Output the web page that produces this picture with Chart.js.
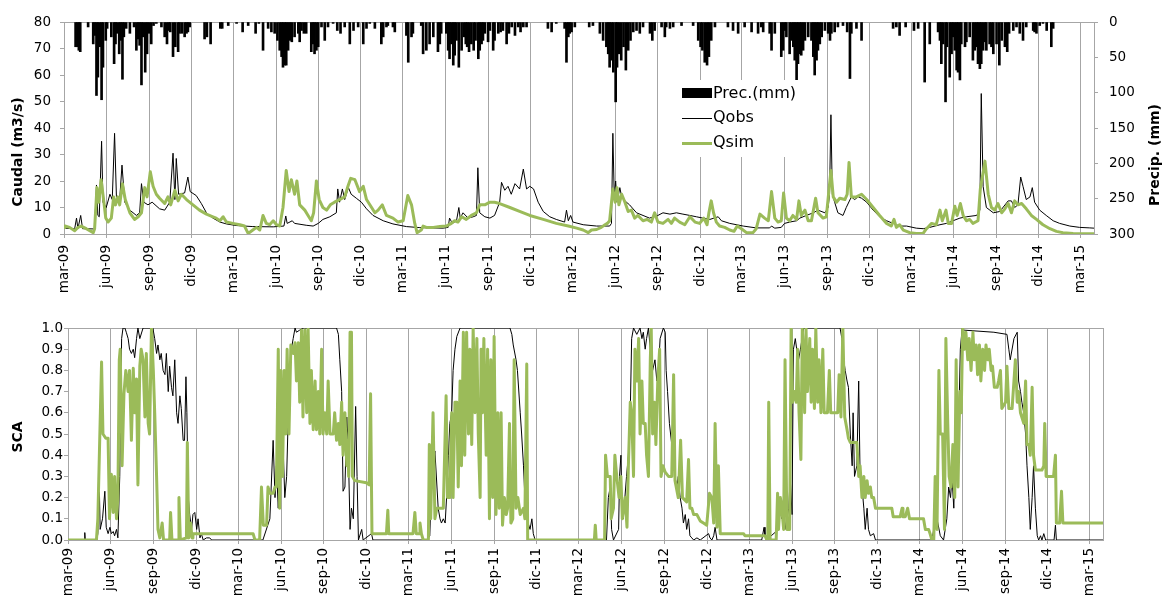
<!DOCTYPE html>
<html>
<head>
<meta charset="utf-8">
<script src="https://cdn.jsdelivr.net/npm/chart.js@4.4.1/dist/chart.umd.min.js"></script>
<style>
  body { margin: 0; background: #fff; width: 1162px; height: 600px; overflow: hidden; }
  .box { position: absolute; left: 0; width: 1162px; height: 300px; }
</style>
</head>
<body>
<div class="box" style="top:0"><canvas id="topChart" width="1162" height="300"></canvas></div>
<div class="box" style="top:300px"><canvas id="scaChart" width="1162" height="300"></canvas></div>
<script>
// x values are days since 1 March 2009
const tickLabels = ['mar-09','jun-09','sep-09','dic-09','mar-10','jun-10','sep-10','dic-10',
  'mar-11','jun-11','sep-11','dic-11','mar-12','jun-12','sep-12','dic-12',
  'mar-13','jun-13','sep-13','dic-13','mar-14','jun-14','sep-14','dic-14','mar-15'];

// observed discharge (m3/s)
const qobs = [[0,2.2],[23,2.0],[27,6],[30,2],[36,7],[40,2],[66,1.9],[70,18.5],[73,7],[76,6.5],[81,35],[84,12],[91,10],[99,15],[104,13],[109,38],[113,14],[120,13],[125,26],[131,12],[142,9],[156,7],[163,8],[167,19],[172,12],[181,11],[190,12],[206,9.5],[217,9],[228,12],[235,30.5],[239,13],[242,28.5],[247,15],[260,15.5],[267,21.5],[272,16],[285,14.5],[296,11.5],[307,8],[321,6],[336,4.5],[350,3.8],[371,3.2],[407,2.8],[451,2.7],[474,3],[478,6.8],[481,4],[492,5],[497,4],[522,3.3],[537,3],[548,4],[558,5.5],[573,6.5],[587,8],[590,17],[594,12],[600,17],[605,13],[613,17.5],[619,15],[630,13.5],[641,12],[652,9.5],[666,7],[688,5],[709,3.8],[738,2.8],[767,2.4],
  [788,2.3],[817,2.2],[828,2.5],[831,6],[837,4],[846,5],[851,10],[854,6],[860,8],[871,6],[882,6.5],[889,7],[892,25],[896,8],[907,6.5],[918,6],[928,7],[939,12],[943,19.5],[950,16.5],[957,18],[964,15],[972,19],[982,17],[990,24.5],[997,17],[1004,18],[1012,17],[1022,12],[1033,8.5],[1047,6.5],[1061,5.5],[1079,4.5],[1083,9],[1087,5],[1092,7],[1097,4.5],[1119,3.5],[1148,3],[1176,3],[1180,4],[1183,38],[1186,14],[1189,20],[1192,12],[1198,17.5],[1202,14],[1209,12.5],[1219,11],[1234,8],[1248,7],[1262,6],[1280,7],[1291,8],[1306,7.5],[1320,8],[1334,7.5],[1349,7],[1363,6.5],[1377,6],[1392,5.5],[1410,6.5],[1417,5],[1435,4],[1464,3],[1492,2.3],
  [1521,2.3],[1525,3],[1532,2.2],[1546,2.5],[1553,4],[1564,4.5],[1579,5],[1586,6],[1600,7],[1615,8],[1625,9],[1640,8],[1647,10],[1650,15],[1653,45],[1656,15],[1661,12],[1668,8],[1679,7],[1686,10],[1697,14],[1704,13],[1712,14],[1719,13.5],[1730,12],[1744,9],[1758,6.5],[1773,5],[1787,4],[1801,3],[1816,3],[1837,2.2],[1852,2],[1866,2.5],[1888,3.5],[1902,4],[1916,5],[1931,6],[1945,6.5],[1967,7],[1974,9],[1977,53],[1981,18],[1988,10],[2003,8],[2017,8.5],[2035,12.5],[2042,12.5],[2049,10],[2056,11],[2062,21.5],[2067,18],[2074,13],[2082,14],[2087,17.5],[2092,12],[2103,9],[2117,7],[2132,5],[2146,4],[2168,3],[2189,2.5],[2211,2.3],[2220,2.2]];

// simulated discharge (m3/s)
const qsim = [[0,2.5],[2,3],[12,2.5],[23,1.2],[30,2.5],[37,3],[48,2],[63,0.5],[66,2],[71,17.5],[75,12],[80,20.5],[86,12],[90,6],[95,4.5],[102,6],[107,14],[111,11],[116,14],[120,11],[126,19],[132,13],[142,8],[152,5.5],[160,6.5],[167,8],[174,17.5],[179,14],[186,23.5],[192,18],[199,15],[206,13.5],[217,11.5],[224,14],[230,11],[239,16.5],[246,12.5],[253,15],[264,13],[278,11],[292,9],[307,7.5],[321,6.5],[328,6],[336,5],[343,6.5],[350,4.5],[364,4],[379,3.5],[389,3],[397,0.2],[407,1.5],[415,2.5],[422,1.5],[429,7],[436,4],[443,3.5],[451,5],[458,3.5],[465,3],[472,10],[479,24],[485,16],[490,20.5],[497,15],[502,20],[508,11],[519,9],[526,7],[533,5],[538,8],[544,20],[550,13],[558,10],[566,9],[574,11],[583,12],[594,13],[605,14],[612,18],[618,21],[627,20.5],[637,16],[645,18],[652,13],[663,10],[670,8],[677,9],[686,11],[695,7],[709,6],[720,4.5],[731,5],[741,14.5],[749,11],[756,4],[761,0.5],
  [770,1.5],[774,3],[781,2.5],[796,2.5],[810,2.8],[824,3],[835,4],[842,5],[849,4.5],[857,6.5],[867,5.5],[878,7],[889,8],[896,11],[907,11],[918,12],[928,12],[939,11.5],[961,10],[982,8.5],[1004,7],[1033,5.5],[1061,4],[1087,3],[1105,2.2],[1119,1.5],[1130,0.5],[1137,1.5],[1148,1.7],[1158,2.5],[1166,3.5],[1171,4],[1176,5],[1183,17],[1188,12],[1192,17.5],[1196,11],[1202,15],[1209,12],[1216,8.5],[1223,9],[1230,6],[1237,7],[1248,5],[1257,5.5],[1266,4.5],[1273,8],[1280,4.5],[1291,4],[1302,5.5],[1309,4],[1316,6],[1327,4.5],[1338,3.5],[1349,6.5],[1360,4.5],[1370,4],[1379,6],[1386,3.5],[1390,8],[1395,12.5],[1400,8],[1406,4.5],[1413,3],[1424,2.5],[1435,1.5],[1444,1],[1451,3],[1460,2],[1471,0.5],[1485,0.5],[1492,2],
  [1500,7.5],[1510,6],[1518,5],[1525,16],[1532,6],[1539,4.5],[1546,5],[1551,15.5],[1557,6],[1564,5],[1571,7],[1579,5.5],[1584,12.5],[1589,7],[1597,9],[1604,5],[1611,5],[1620,13.5],[1625,8],[1636,6],[1643,6.5],[1653,24],[1658,14],[1665,12],[1672,13.5],[1683,13],[1688,15],[1692,27],[1697,14],[1708,14],[1719,15],[1730,13],[1744,10],[1758,7],[1773,4],[1783,3],[1789,5.5],[1794,2.5],[1801,3.5],[1809,1.5],[1823,0.5],[1837,0.2],[1852,0.3],[1859,2],[1870,4],[1880,3.5],[1888,9],[1893,5],[1901,9],[1906,4],[1913,4],[1920,10.5],[1925,7],[1932,11.5],[1938,7],[1945,5],[1952,5.5],[1959,4],[1970,5],[1975,17],[1985,27.5],[1992,15],[1999,10],[2006,9],[2013,11.5],[2021,8],[2028,9.5],[2035,11.5],[2042,8],[2049,12.5],[2056,11],[2064,11.5],[2074,9.5],[2085,7],[2096,5.5],[2110,3.5],[2125,2],[2139,1],[2153,0.5],[2175,0.2],[2220,0.1]];

// daily precipitation (mm)
const prec = [[25,35],[29,35],[32,40],[35,42],[52,7],[63,31],[66,19],[70,104],[73,78],[77,35],[81,110],[84,64],[90,26],[93,9],[102,21],[108,59],[111,31],[114,16],[119,45],[122,26],[126,81],[129,21],[134,9],[142,16],[151,7],[156,40],[160,24],[163,33],[167,89],[170,21],[175,71],[179,45],[183,16],[188,31],[193,5],[199,2],[210,7],[217,21],[222,31],[226,12],[229,14],[235,49],[240,35],[246,42],[249,16],[254,16],[260,21],[264,16],[267,14],[271,7],[303,24],[308,21],[316,31],[337,9],[341,9],[354,5],[372,2],[385,14],[397,5],[413,16],[420,2],[429,40],[440,9],[447,14],[454,16],[460,26],[465,40],[469,49],[472,64],[476,61],[479,61],[483,40],[487,26],[491,28],[497,21],[505,16],[508,28],[512,12],[517,16],[522,16],[533,42],[537,31],[540,45],[544,40],[548,35],[555,7],[562,26],[569,7],[580,2],[589,12],[596,16],[605,7],[616,31],[624,12],[634,7],[645,31],[652,9],[659,2],[670,9],[684,31],[688,21],[695,7],[698,5],[709,7],[713,14],
  [738,19],[742,57],[749,21],[752,16],[770,5],[774,45],[781,40],[788,31],[796,21],[806,42],[810,31],[813,16],[824,16],[828,40],[831,52],[835,31],[839,61],[842,47],[846,26],[851,64],[857,40],[862,21],[866,31],[869,35],[873,42],[878,31],[883,40],[887,26],[893,52],[896,40],[900,31],[903,26],[907,16],[914,28],[918,12],[925,40],[928,26],[936,16],[941,14],[946,12],[954,31],[959,16],[965,7],[972,19],[979,7],[984,14],[990,7],[997,7],[1043,9],[1051,14],[1061,2],[1079,9],[1083,57],[1087,21],[1090,16],[1094,14],[1101,7],[1132,7],[1140,5],[1155,16],[1162,26],[1169,35],[1173,45],[1176,64],[1180,54],[1184,71],[1189,113],[1192,64],[1196,45],[1201,54],[1206,35],[1211,68],[1216,40],[1221,26],[1227,14],[1234,12],[1241,16],[1248,7],[1263,16],[1268,26],[1273,12],[1288,7],[1295,21],[1298,7],[1306,9],[1313,7],[1331,5],[1356,5],[1367,26],[1372,35],[1376,40],[1381,57],[1386,61],[1390,49],[1395,26],[1403,7],[1431,7],[1442,12],[1453,16],[1467,7],[1482,14],[1496,16],[1503,7],
  [1507,14],[1521,16],[1525,40],[1532,16],[1546,49],[1550,40],[1554,12],[1557,21],[1564,45],[1568,26],[1572,35],[1575,54],[1579,82],[1582,59],[1586,45],[1589,47],[1593,40],[1597,26],[1604,21],[1611,26],[1615,49],[1618,75],[1622,54],[1625,40],[1629,31],[1633,21],[1640,12],[1647,16],[1651,26],[1654,16],[1661,14],[1668,7],[1679,5],[1688,14],[1694,80],[1697,16],[1708,9],[1719,26],[1787,9],[1794,7],[1801,19],[1814,7],[1832,12],[1841,9],[1855,85],[1866,31],[1884,14],[1888,26],[1891,59],[1895,31],[1900,113],[1903,35],[1909,78],[1913,45],[1916,21],[1920,40],[1924,68],[1927,71],[1931,82],[1934,31],[1942,35],[1945,28],[1952,21],[1959,54],[1963,40],[1967,35],[1970,59],[1974,66],[1977,59],[1981,40],[1985,28],[1988,40],[1995,31],[1999,35],[2003,45],[2010,31],[2016,61],[2021,26],[2028,35],[2033,42],[2037,16],[2046,12],[2053,7],[2060,16],[2067,26],[2074,7],[2089,12],[2092,14],[2096,16],[2103,5],[2110,2],[2118,12],[2128,35],[2132,9]];

// observed snow covered area (fraction)
const scaObs = [[0,0],[35,0],[36,0.035],[37,0],[62,0],[64,0.03],[67,0.27],[69,0.05],[74,0.1],[79,0.23],[82,0.06],[86,0.03],[90,0.06],[93,0.03],[97,0.04],[100,0.02],[104,0.05],[107,0.01],[111,0.3],[115,0.95],[118,1.0],[122,1.0],[125,0.98],[129,0.95],[132,0.9],[136,0.88],[140,0.9],[143,0.86],[147,0.95],[150,1.0],[154,0.95],[161,1.0],[182,1.0],[186,0.95],[190,0.88],[193,0.92],[197,0.85],[200,0.88],[204,0.8],[208,0.78],[211,0.88],[215,0.7],[218,0.82],[222,0.72],[225,0.68],[229,0.85],[233,0.6],[236,0.55],[240,0.68],[243,0.62],[247,0.47],[250,0.47],[253,0.77],[255,0.6],[258,0.2],[261,0.12],[265,0.05],[268,0.12],[272,0.13],[276,0.05],[279,0.1],[283,0.01],[286,0.03],[290,0],[297,0.01],[304,0.01],[308,0],
  [418,0],[433,0.1],[440,0.47],[444,0.2],[447,0.35],[451,0.15],[458,0.55],[462,0.4],[465,0.2],[469,0.3],[472,0.55],[476,0.8],[479,0.9],[483,0.95],[487,1.0],[490,0.98],[497,0.99],[504,1.0],[576,1.0],[580,0.97],[583,0.85],[587,0.7],[590,0.23],[594,0.25],[598,0.58],[601,0.45],[605,0.05],[608,0.15],[612,0.1],[617,0.63],[620,0.3],[623,0],[630,0.05],[633,0],[651,0.03],[654,0],
  [770,0],[776,0.02],[780,0.3],[787,0.42],[794,0.15],[798,0.1],[801,0.08],[805,0.1],[809,0.08],[812,0.2],[816,0.4],[819,0.55],[823,0.6],[826,0.8],[830,0.9],[834,0.96],[841,1.0],[948,1.0],[952,0.97],[955,0.92],[961,0.85],[964,0.8],[970,0.6],[973,0.5],[977,0.35],[980,0.2],[984,0.12],[987,0.08],[991,0.05],[995,0.1],[998,0.03],[1002,0],
  [1155,0],[1159,0.2],[1163,0.25],[1166,0.05],[1170,0],[1181,0.05],[1183,0.3],[1186,0.4],[1188,0.15],[1191,0.1],[1198,0.3],[1202,0.4],[1206,0.6],[1209,0.95],[1213,1.0],[1220,0.97],[1227,1.0],[1231,0.95],[1234,0.98],[1238,0.9],[1241,0.95],[1245,1.0],[1249,0.9],[1254,0.8],[1259,0.85],[1263,0.75],[1266,0.78],[1270,0.95],[1277,1.0],[1281,0.98],[1283,0.8],[1286,0.7],[1290,0.55],[1295,0.45],[1299,0.4],[1302,0.3],[1306,0.25],[1309,0.3],[1313,0.2],[1317,0.15],[1320,0.08],[1324,0.12],[1327,0.05],[1331,0.1],[1334,0.02],[1338,0.01],[1342,0],[1349,0.01],[1356,0],[1374,0.03],[1377,0.01],[1381,0],[1385,0.02],[1388,0.06],[1392,0],[1488,0],[1493,0.06],[1495,0.02],
  [1498,0],[1524,0.05],[1528,0.15],[1531,0.1],[1535,0.2],[1538,0.05],[1542,0.1],[1546,0.15],[1549,0.3],[1553,0.12],[1556,0.9],[1560,0.95],[1563,0.9],[1567,0.85],[1571,0.9],[1578,1.0],[1656,1.0],[1660,0.95],[1664,0.85],[1667,0.8],[1671,0.75],[1674,0.72],[1678,0.5],[1682,0.35],[1684,0.6],[1687,0.3],[1692,0.35],[1696,0.75],[1699,0.3],[1703,0.25],[1707,0.15],[1710,0.05],[1714,0.15],[1717,0.05],[1721,0.02],[1728,0.03],[1732,0],
  [1853,0],[1857,0.05],[1860,0.25],[1864,0.1],[1871,0.02],[1878,0],[1885,0.1],[1889,0.25],[1893,0.2],[1896,0.3],[1900,0.15],[1903,0.4],[1907,0.3],[1910,0.5],[1914,0.9],[1918,1.0],[1921,0.99],[1986,0.98],[2014,0.97],[2018,0.9],[2021,0.85],[2029,0.95],[2036,0.98],[2039,0.75],[2043,0.7],[2046,0.65],[2050,0.6],[2054,0.5],[2057,0.35],[2061,0.2],[2064,0.05],[2068,0.2],[2071,0.35],[2075,0.15],[2079,0.02],[2082,0],[2086,0.02],[2089,0],[2093,0.03],[2097,0],[2115,0],[2118,0.07],[2120,0],[2220,0]];

// simulated snow covered area (fraction)
const scaSim = [[0,0],[61,0],[64,0.1],[72,0.84],[75,0.5],[81,0.48],[86,0.48],[89,0.1],[93,0.31],[97,0.13],[100,0.3],[104,0.1],[107,0.2],[110,0.85],[112,0.9],[116,0.35],[120,0.69],[124,0.8],[129,0.7],[132,0.8],[136,0.47],[140,0.81],[143,0.6],[147,0.76],[150,0.26],[154,0.82],[157,0.9],[161,0.85],[165,0.58],[168,0.88],[172,0.55],[175,0.5],[179,1.0],[183,0.8],[186,0.6],[190,0.3],[193,0.05],[197,0.01],[202,0.08],[205,0],[218,0],[220,0.13],[223,0],[236,0],[238,0.2],[241,0],[254,0.01],[256,0.46],[259,0.01],[263,0.08],[266,0.01],[268,0.03],[397,0.03],[401,0],[411,0],[415,0.25],[419,0.07],[426,0.07],[429,0.25],[433,0.22],[440,0.22],[444,0.25],[447,0.25],[451,0.9],[454,0.15],[457,0.8],[460,0.3],[464,0.8],[467,0.5],[470,0.9],[474,0.5],[478,0.92],[483,0.88],[487,0.93],[490,0.75],[494,0.93],[497,0.65],[501,0.99],[504,0.58],[508,0.99],[512,0.6],[515,1.0],[519,0.55],[522,0.8],[526,0.52],[530,0.75],[533,0.52],[537,0.7],[540,0.5],[544,0.9],[547,0.5],[551,0.6],[555,0.5],[558,0.75],[562,0.5],[569,0.5],[572,0.6],[576,0.47],[580,0.55],[583,0.45],[587,0.65],[590,0.4],[594,0.6],[598,0.35],[600,0.47],[602,0.3],[605,0.98],[608,0.98],[610,0.3],[615,0.28],[640,0.27],[646,0.26],[649,0.69],[652,0.03],[683,0.03],[686,0.14],[688,0.03],
  [740,0.03],[744,0.13],[747,0.03],[753,0.03],[755,0.08],[758,0.03],[762,0],[773,0],[775,0.45],[778,0.1],[783,0.6],[787,0.1],[791,0.15],[805,0.15],[811,0.68],[814,0.2],[819,0.2],[823,0.6],[826,0.2],[830,0.65],[834,0.65],[837,0.25],[841,0.75],[844,0.35],[848,0.98],[851,0.4],[855,0.98],[859,0.5],[862,0.9],[866,0.45],[869,1.0],[873,0.6],[877,0.95],[880,0.5],[884,0.2],[886,0.9],[889,0.6],[892,0.95],[897,0.4],[900,0.9],[904,0.1],[907,0.85],[911,0.2],[914,0.96],[918,0.12],[922,0.6],[925,0.15],[929,0.6],[932,0.07],[936,0.2],[940,0.12],[943,0.15],[947,0.55],[950,0.08],[954,0.1],[957,0.85],[961,0.15],[965,0.2],[970,0.12],[977,0.15],[980,0.1],[984,0.83],[986,0],
  [1129,0],[1131,0.07],[1133,0],[1151,0],[1153,0.4],[1157,0.3],[1163,0.3],[1165,0.1],[1170,0.15],[1173,0.4],[1177,0.3],[1182,0.2],[1186,0.3],[1189,0.1],[1195,0.2],[1199,0.06],[1202,0.35],[1206,0.65],[1209,0.6],[1213,0.3],[1216,0.9],[1220,0.75],[1224,0.95],[1227,0.5],[1231,0.75],[1234,0.55],[1238,0.55],[1241,0.4],[1245,0.3],[1249,0.85],[1251,1.0],[1254,0.5],[1258,0.65],[1261,0.45],[1265,0.75],[1269,0.9],[1272,0.3],[1276,0.35],[1281,0.32],[1288,0.3],[1295,0.3],[1299,0.78],[1302,0.28],[1309,0.2],[1314,0.47],[1318,0.2],[1327,0.18],[1331,0.38],[1334,0.15],[1338,0.15],[1342,0.12],[1349,0.12],[1356,0.09],[1363,0.08],[1370,0.07],[1376,0.22],[1381,0.2],[1385,0.08],[1388,0.55],[1392,0.06],[1395,0.35],[1399,0.03],[1449,0.03],[1452,0.02],[1495,0.02],[1499,0],[1501,0],[1503,0.65],[1506,0],
  [1519,0],[1522,0.22],[1524,0.05],[1528,0.2],[1531,0.15],[1535,0.05],[1538,0.85],[1542,0.05],[1548,0.05],[1551,1.0],[1554,0.65],[1558,0.7],[1562,0.65],[1565,0.9],[1568,0.6],[1572,0.38],[1575,1.0],[1578,0.85],[1580,0.6],[1583,1.0],[1586,0.7],[1591,0.95],[1594,0.65],[1597,0.9],[1601,0.62],[1604,1.0],[1608,0.65],[1611,0.85],[1615,0.6],[1619,0.9],[1622,0.6],[1629,0.6],[1633,0.8],[1636,0.6],[1651,0.6],[1654,0.78],[1658,0.58],[1662,1.0],[1666,0.58],[1671,0.52],[1674,0.48],[1678,0.46],[1692,0.46],[1696,0.3],[1699,0.35],[1703,0.2],[1707,0.3],[1710,0.2],[1714,0.28],[1717,0.22],[1721,0.25],[1724,0.2],[1728,0.2],[1732,0.15],[1767,0.15],[1770,0.11],[1785,0.11],[1789,0.15],[1791,0.11],[1796,0.11],[1801,0.15],[1805,0.1],[1835,0.1],[1839,0.05],[1846,0.05],[1849,0.03],[1853,0],
  [1857,0],[1860,0.3],[1864,0.05],[1868,0.8],[1871,0.5],[1876,0.5],[1880,0.05],[1883,0.95],[1887,0.55],[1890,0.3],[1894,0.25],[1898,0.45],[1902,0.2],[1905,0.85],[1909,0.25],[1913,0.7],[1916,0.6],[1919,1.0],[1923,0.9],[1926,0.98],[1930,0.85],[1933,0.95],[1937,0.8],[1941,0.98],[1944,0.85],[1948,0.92],[1951,0.78],[1955,0.92],[1958,0.75],[1962,0.9],[1966,0.8],[1969,0.92],[1973,0.85],[1976,0.9],[1980,0.8],[1983,0.82],[1987,0.72],[1993,0.72],[1996,0.75],[2000,0.8],[2003,0.62],[2011,0.65],[2014,0.82],[2018,0.62],[2025,0.62],[2029,0.75],[2032,0.85],[2036,0.65],[2039,0.7],[2043,0.6],[2050,0.55],[2054,0.75],[2057,0.45],[2061,0.45],[2064,0.4],[2068,0.72],[2071,0.4],[2075,0.33],[2089,0.33],[2093,0.35],[2095,0.55],[2098,0.3],[2114,0.3],[2118,0.4],[2120,0.08],[2127,0.08],[2131,0.23],[2134,0.08],[2220,0.08]];

const monthIdx = { mar: 2, jun: 5, sep: 8, dic: 11 };
const day0 = Date.UTC(2009, 2, 1);
const tickDays = tickLabels.map(l => {
  const [m, y] = l.split('-');
  return Math.round((Date.UTC(2000 + Number(y), monthIdx[m], 1) - day0) / 86400000);
});

const GREEN = '#9bbb59';
const GRID = '#a6a6a6';
const xy = arr => arr.map(p => ({ x: p[0], y: p[1] }));

Chart.defaults.font.family = 'DejaVu Sans, Verdana, sans-serif';
Chart.defaults.font.size = 13.5;
Chart.defaults.color = '#000';

function xAxis(h, pad) {
  return {
    type: 'linear', min: 0, max: 2220, offset: false,
    afterBuildTicks: s => { s.ticks = tickDays.map(v => ({ value: v })); },
    ticks: { autoSkip: false, minRotation: 90, maxRotation: 90, padding: pad,
      callback: (v, i) => tickLabels[i] },
    grid: { color: GRID, tickLength: 4, offset: false },
    border: { color: GRID },
    afterFit: s => { s.height = h; }
  };
}

// frame around the plot area
const frame = {
  id: 'frame',
  beforeDatasetsDraw(chart) {
    const a = chart.chartArea, ctx = chart.ctx;
    ctx.save();
    ctx.strokeStyle = GRID;
    ctx.lineWidth = 1;
    ctx.strokeRect(Math.round(a.left) + 0.5, Math.round(a.top) + 0.5,
      Math.round(a.right - a.left), Math.round(a.bottom - a.top));
    ctx.restore();
  }
};

function vTitle(ctx, text, x, y) {
  ctx.save();
  ctx.translate(x, y);
  ctx.rotate(-Math.PI / 2);
  ctx.font = 'bold 14px DejaVu Sans, Verdana, sans-serif';
  ctx.fillStyle = '#000';
  ctx.textAlign = 'center';
  ctx.textBaseline = 'middle';
  ctx.fillText(text, 0, 0);
  ctx.restore();
}

const topDecor = {
  id: 'topDecor',
  afterDraw(chart) {
    const ctx = chart.ctx;
    vTitle(ctx, 'Caudal (m3/s)', 18, 152);
    vTitle(ctx, 'Precip. (mm)', 1155, 155);
    // legend
    ctx.save();
    ctx.fillStyle = '#fff';
    ctx.fillRect(678, 80, 130, 77);
    ctx.fillStyle = '#000';
    ctx.fillRect(682, 88, 30, 10);
    ctx.strokeStyle = '#000';
    ctx.lineWidth = 1;
    ctx.beginPath(); ctx.moveTo(682, 118.5); ctx.lineTo(712, 118.5); ctx.stroke();
    ctx.strokeStyle = GREEN;
    ctx.lineWidth = 3;
    ctx.beginPath(); ctx.moveTo(682, 143.5); ctx.lineTo(712, 143.5); ctx.stroke();
    ctx.font = '16px DejaVu Sans, Verdana, sans-serif';
    ctx.textBaseline = 'middle';
    ctx.fillStyle = '#000';
    ctx.fillText('Prec.(mm)', 713, 94);
    ctx.fillText('Qobs', 713, 118);
    ctx.fillText('Qsim', 713, 143);
    ctx.restore();
  }
};

const scaDecor = {
  id: 'scaDecor',
  afterDraw(chart) { vTitle(chart.ctx, 'SCA', 18, 137); }
};

new Chart(document.getElementById('topChart'), {
  type: 'bar',
  data: {
    datasets: [
      { type: 'line', label: 'Qsim', data: xy(qsim), yAxisID: 'yQ', borderColor: GREEN,
        borderWidth: 3, pointRadius: 0, tension: 0, borderJoinStyle: 'round', order: 1 },
      { type: 'line', label: 'Qobs', data: xy(qobs), yAxisID: 'yQ', borderColor: '#000',
        borderWidth: 1, pointRadius: 0, tension: 0, order: 2 },
      { type: 'bar', label: 'Prec.(mm)', data: xy(prec), yAxisID: 'yP', backgroundColor: '#000',
        barThickness: 2, order: 3 }
    ]
  },
  options: {
    responsive: false, animation: false, events: [],
    layout: { padding: { top: 22, left: 0, right: 0, bottom: 0 } },
    plugins: { legend: { display: false }, tooltip: { enabled: false } },
    scales: {
      x: xAxis(66, 7),
      yQ: { position: 'left', min: 0, max: 80,
        ticks: { stepSize: 10, padding: 9 },
        grid: { drawOnChartArea: false, tickLength: 4, color: GRID },
        border: { color: GRID },
        afterFit: s => { s.width = 64; } },
      yP: { position: 'right', reverse: true, min: 0, max: 300,
        ticks: { stepSize: 50, padding: 11 },
        grid: { drawOnChartArea: false, tickLength: 4, color: GRID },
        border: { color: GRID },
        afterFit: s => { s.width = 68; } }
    }
  },
  plugins: [frame, topDecor]
});

new Chart(document.getElementById('scaChart'), {
  type: 'line',
  data: {
    datasets: [
      { label: 'SCA sim', data: xy(scaSim), borderColor: GREEN, borderWidth: 3,
        pointRadius: 0, tension: 0, borderJoinStyle: 'round', order: 1 },
      { label: 'SCA obs', data: xy(scaObs), borderColor: '#000', borderWidth: 1,
        pointRadius: 0, tension: 0, order: 2 }
    ]
  },
  options: {
    responsive: false, animation: false, events: [],
    layout: { padding: { top: 28, left: 0, right: 59, bottom: 0 } },
    plugins: { legend: { display: false }, tooltip: { enabled: false } },
    scales: {
      x: xAxis(60, 4),
      y: { min: 0, max: 1,
        ticks: { stepSize: 0.1, padding: 1, callback: v => v.toFixed(1) },
        grid: { drawOnChartArea: false, tickLength: 4, color: GRID },
        border: { color: GRID },
        afterFit: s => { s.width = 68; } }
    }
  },
  plugins: [frame, scaDecor]
});
</script>
</body>
</html>
